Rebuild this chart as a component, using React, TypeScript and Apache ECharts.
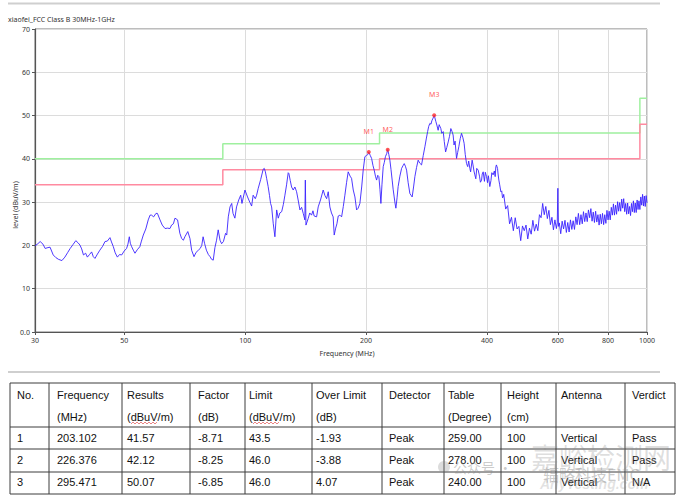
import React, { useEffect, useRef } from 'react';
import * as echarts from 'echarts';

const chartTitle = 'xiaofei_FCC Class B 30MHz-1GHz';
const yAxisTitle = 'level (dBuV/m)';
const xAxisTitle = 'Frequency (MHz)';
const xTickMHz = [30, 50, 100, 200, 400, 600, 800, 1000];
const limitEdgesMHz = [30, 88, 216, 960, 1000];
const limitClassB = [40, 43.5, 46, 54];
const limitWarning = [34, 37.5, 40, 48];
const markerNames = ['M1', 'M2', 'M3'];
const markerFreq = [203.102, 226.376, 295.471];
const markerLevel = [41.57, 42.12, 50.07];

// measured trace: [MHz, dBuV/m]
const trace: [number, number][] = [
  [30.0, 19.9], [30.5, 20.4], [30.9, 20.9], [31.4, 20.3], [31.8, 19.3], [32.3, 19.5], [32.7, 19.6], [33.3, 17.8],
  [33.8, 17.2], [34.3, 16.8], [35.0, 16.5], [35.6, 17.3], [36.2, 18.4], [36.7, 19.3], [37.3, 20.2], [37.9, 21.1],
  [38.4, 20.6], [38.8, 20.1], [39.2, 19.2], [39.6, 17.8], [40.1, 18.2], [40.5, 17.3], [41.0, 17.9], [41.5, 18.5],
  [41.9, 17.4], [42.3, 17.0], [42.9, 18.0], [43.5, 18.9], [44.2, 19.8], [44.8, 20.9], [45.4, 21.0], [46.1, 21.8],
  [46.5, 20.8], [47.0, 19.7], [47.5, 18.3], [48.1, 17.3], [48.7, 17.9], [49.3, 17.8], [50.0, 18.7], [50.7, 19.3],
  [51.1, 20.3], [51.5, 22.0], [51.8, 20.5], [52.2, 19.7], [52.7, 18.9], [53.2, 18.2], [53.9, 19.0], [54.7, 19.7],
  [55.2, 21.0], [55.8, 22.4], [56.6, 23.8], [57.4, 25.9], [58.0, 27.0], [58.5, 27.0], [59.2, 26.6], [60.0, 27.4],
  [60.5, 27.4], [61.4, 25.9], [62.2, 24.7], [63.2, 23.9], [64.1, 24.0], [65.0, 23.9], [65.6, 24.7], [66.3, 25.0],
  [66.9, 26.3], [67.9, 25.9], [68.8, 22.8], [69.5, 21.6], [70.2, 21.2], [70.8, 22.0], [72.0, 23.2], [72.9, 21.6],
  [73.6, 18.9], [74.6, 17.4], [75.5, 18.4], [76.5, 18.9], [77.3, 19.3], [78.0, 20.0], [78.6, 22.0], [79.3, 20.4],
  [80.1, 18.9], [81.0, 17.9], [81.8, 17.4], [82.5, 16.8], [83.3, 16.6], [84.1, 19.5], [84.9, 21.2], [85.7, 23.6],
  [86.6, 21.2], [87.4, 20.4], [88.3, 20.9], [89.4, 22.8], [90.0, 22.4], [90.8, 26.6], [91.7, 28.9], [92.6, 29.7],
  [93.3, 27.4], [94.3, 26.3], [95.2, 28.9], [96.4, 30.5], [97.5, 31.6], [98.2, 29.7], [99.9, 32.8],
  [101.4, 31.2], [102.8, 29.9], [103.8, 29.1], [104.7, 31.6], [106.0, 30.8], [106.8, 31.6], [107.8, 33.2], [109.3, 35.2],
  [110.9, 37.6], [111.6, 37.8], [112.3, 37.0], [113.1, 35.5], [114.1, 33.6], [115.0, 31.5], [115.7, 29.7], [116.4, 28.9],
  [117.5, 25.0], [118.6, 22.0], [119.8, 28.2], [120.9, 26.3], [122.0, 27.5], [123.3, 27.8], [124.5, 29.5], [125.6, 31.6],
  [126.8, 34.0], [128.0, 36.8], [128.5, 36.6], [129.5, 35.0], [130.5, 33.5], [131.7, 32.8], [133.0, 33.5], [134.3, 32.4],
  [135.5, 30.5], [136.9, 28.2], [138.2, 28.8], [139.5, 27.4], [140.8, 25.9], [141.2, 35.1], [141.7, 24.7], [143.5, 26.2],
  [144.8, 27.5], [146.3, 27.0], [147.5, 28.0], [148.5, 26.8], [150.6, 26.6], [152.0, 28.9], [154.0, 30.5], [156.4, 32.8],
  [158.0, 31.5], [159.5, 30.8], [161.0, 32.4], [162.5, 28.9], [164.0, 27.5], [165.6, 26.6], [166.6, 22.4], [168.0, 24.0],
  [169.2, 25.0], [170.5, 26.8], [172.1, 27.0], [173.8, 26.6], [175.5, 29.0], [177.1, 31.6], [178.8, 34.5], [180.5, 37.0],
  [181.2, 37.0], [182.5, 36.0], [184.0, 35.5], [185.8, 32.8], [187.6, 31.2], [189.4, 28.2], [191.1, 28.6], [193.0, 29.7],
  [195.0, 33.5], [196.7, 37.4], [198.6, 40.5], [200.5, 40.8], [202.0, 41.0], [203.1, 41.57], [204.8, 40.8], [206.4, 40.1],
  [208.0, 38.5], [209.5, 37.4], [211.0, 36.0], [212.4, 35.1], [213.8, 36.2], [215.2, 35.9], [216.5, 33.0], [217.7, 29.7],
  [219.0, 34.0], [220.6, 38.2], [222.0, 39.2], [223.4, 40.5], [225.0, 41.2], [226.4, 42.12], [227.8, 41.0], [229.2, 39.7],
  [230.7, 37.5], [232.2, 35.1], [233.5, 33.0], [234.9, 31.2], [236.0, 29.8], [237.2, 28.6], [238.8, 31.0], [240.3, 33.6],
  [242.7, 36.0], [245.1, 37.8], [247.0, 38.4], [248.8, 38.9], [250.5, 38.3], [252.2, 37.4], [254.5, 34.5], [257.0, 32.0],
  [258.7, 31.6], [260.4, 31.2], [262.5, 33.5], [264.5, 35.9], [267.0, 38.0], [269.5, 39.7], [272.0, 39.0], [274.8, 38.6],
  [277.5, 40.8], [280.1, 42.8], [282.3, 44.6], [284.5, 46.3], [286.3, 47.5], [288.2, 48.2], [290.0, 48.0], [291.5, 48.8],
  [293.5, 49.4], [295.5, 50.07],
  [298.3, 48.6], [300.0, 47.8], [302.2, 46.6], [304.0, 47.9], [306.9, 47.0], [308.5, 45.9], [311.1, 46.3], [313.0, 44.0],
  [315.4, 41.6], [317.5, 42.6], [320.1, 43.9], [322.5, 45.2], [325.0, 47.0], [327.0, 46.4], [329.3, 45.5], [331.0, 43.2],
  [333.0, 44.1], [335.8, 40.1], [338.0, 41.5], [340.2, 42.8], [343.0, 44.7], [345.5, 45.9], [348.0, 45.0], [350.7, 43.6],
  [353.0, 41.0], [355.6, 38.9], [358.0, 38.2], [360.0, 39.5], [362.4, 37.8], [364.0, 37.0], [367.2, 39.7], [369.0, 38.6],
  [371.0, 37.2], [372.9, 36.3], [375.0, 35.4], [377.0, 37.8], [380.1, 37.4], [383.0, 36.0], [385.0, 34.6], [387.6, 35.1],
  [389.0, 36.5], [391.2, 37.0], [394.0, 34.8], [396.0, 36.9], [398.8, 35.9], [401.0, 34.5], [403.0, 36.1], [406.3, 33.6],
  [409.0, 35.0], [411.0, 36.8], [414.1, 36.3], [417.0, 37.2], [419.0, 35.9], [420.6, 38.2], [422.0, 38.6], [424.7, 37.8],
  [426.0, 36.5], [427.9, 35.1], [430.0, 34.0], [432.9, 32.4], [435.0, 32.6], [437.0, 31.0], [438.6, 31.2],
  [440, 31.8], [445, 28.4], [450, 29.2], [455, 25.0], [460, 26.5], [465, 23.4], [470, 26.4], [475, 23.8],
  [480, 24.4], [485, 21.1], [490, 24.5], [495, 23.4], [500, 24.7], [505, 21.5], [510, 24.0], [515, 22.6],
  [520, 25.8], [525, 23.3], [530, 24.9], [535, 23.4], [540, 27.1], [545, 26.4], [550, 29.7], [555, 27.1],
  [560, 29.0], [565, 26.2], [570, 28.1], [575, 24.8], [580, 26.5], [585, 23.6], [590, 25.9], [595, 23.9],
  [598, 25.2], [600, 33.2], [602, 24.4], [605, 25.2], [610, 22.7], [615, 25.6], [620, 23.8], [625, 25.8],
  [630, 23.0], [635, 25.3], [640, 23.1], [645, 25.9], [650, 23.7], [655, 25.7], [660, 23.7], [665, 26.6],
  [670, 24.8], [675, 27.4], [680, 24.8], [685, 27.1], [690, 25.0], [695, 27.8], [700, 25.5], [705, 27.5],
  [710, 25.5], [715, 28.2], [720, 26.4], [725, 28.5], [730, 25.6], [735, 27.7], [740, 25.3], [745, 27.9],
  [750, 25.4], [755, 27.1], [760, 24.7], [765, 27.2], [770, 25.0], [775, 27.4], [780, 24.8], [785, 27.1],
  [790, 25.1], [795, 28.1], [800, 25.9], [805, 27.9], [810, 25.9], [815, 28.8], [820, 27.0], [825, 29.6],
  [830, 27.0], [835, 29.3], [840, 27.2], [845, 30.1], [850, 27.9], [855, 29.9], [860, 27.9], [865, 30.7],
  [870, 28.6], [875, 30.8], [880, 27.8], [885, 29.7], [890, 27.2], [895, 29.8], [900, 27.3], [905, 29.0],
  [910, 26.9], [915, 29.7], [920, 27.8], [925, 30.3], [930, 27.6], [935, 29.8], [940, 27.6], [945, 30.5],
  [950, 28.3], [955, 30.3], [960, 28.3], [965, 31.2], [970, 29.3], [975, 31.8], [980, 29.1], [985, 31.4],
  [990, 29.0], [995, 31.5], [1000, 29.8],
];

const tableHeadTop = ['No.', 'Frequency', 'Results', 'Factor', 'Limit', 'Over Limit', 'Detector', 'Table', 'Height', 'Antenna', 'Verdict'];
const tableHeadBottom = ['', '(MHz)', '(dBuV/m)', '(dB)', '(dBuV/m)', '(dB)', '', '(Degree)', '(cm)', '', ''];
const tableRows = [
  ['1', '203.102', '41.57', '-8.71', '43.5', '-1.93', 'Peak', '259.00', '100', 'Vertical', 'Pass'],
  ['2', '226.376', '42.12', '-8.25', '46.0', '-3.88', 'Peak', '278.00', '100', 'Vertical', 'Pass'],
  ['3', '295.471', '50.07', '-6.85', '46.0', '4.07', 'Peak', '240.00', '100', 'Vertical', 'N/A'],
];

const lg = (v: number) => Math.log10(v);

function stepData(edges: number[], levels: number[]) {
  const out: number[][] = [];
  for (let i = 0; i < levels.length; i++) {
    out.push([lg(edges[i]), levels[i]]);
    out.push([lg(edges[i + 1]), levels[i]]);
  }
  return out;
}

function buildTable() {
  const els: any[] = [];
  const colX = [10, 49, 122, 190, 245, 312, 382, 444, 501, 556, 625, 675];
  const rowY = [383, 427, 449, 472, 494];
  const textX = [17, 57, 127, 198, 249, 316, 389, 448, 507, 561, 632];
  const lineStyle = { stroke: '#3c3c3c', lineWidth: 1 };
  rowY.forEach((y) => els.push({ type: 'line', shape: { x1: colX[0], y1: y, x2: colX[colX.length - 1], y2: y }, style: lineStyle }));
  colX.forEach((x) => els.push({ type: 'line', shape: { x1: x, y1: rowY[0], x2: x, y2: rowY[rowY.length - 1] }, style: lineStyle }));
  const font = { fontFamily: '"Liberation Sans", Arial, sans-serif', fontSize: 11, fill: '#111' };
  tableHeadTop.forEach((t, i) => els.push({ type: 'text', x: textX[i], y: 394.5, style: { ...font, text: t, verticalAlign: 'middle' } }));
  tableHeadBottom.forEach((t, i) => t && els.push({ type: 'text', x: textX[i], y: 416.5, style: { ...font, text: t, verticalAlign: 'middle' } }));
  const rowsY = [437.7, 460, 482.3];
  tableRows.forEach((row, r) => row.forEach((t, i) => els.push({ type: 'text', x: textX[i], y: rowsY[r], style: { ...font, text: t, verticalAlign: 'middle' } })));
  // spell-check squiggles under "dBuV"
  [131, 253].forEach((x0) => {
    const pts: number[][] = [];
    for (let k = 0; k <= 13; k++) pts.push([x0 + k * 2, k % 2 ? 422 : 424]);
    els.push({ type: 'polyline', shape: { points: pts }, style: { stroke: '#e05050', lineWidth: 0.7, fill: null } });
  });
  return els;
}

export default function App() {
  const ref = useRef<HTMLDivElement>(null);
  useEffect(() => {
    if (!ref.current) return;
    const chart = echarts.init(ref.current, undefined, { renderer: 'svg' });
    const axisFont = { fontFamily: '"Noto Sans", "DejaVu Sans", sans-serif', fontSize: 7, color: '#333' };
    const option: any = {
      animation: false,
      backgroundColor: '#fff',
      grid: {
        left: 35, right: 33, top: 29, bottom: 167,
        show: true, borderColor: '#7a7a7a', borderWidth: 1,
        containLabel: false, outerBoundsMode: 'none',
      },
      xAxis: {
        type: 'value',
        min: lg(30), max: lg(1000),
        axisLine: { show: true, lineStyle: { color: '#555', width: 1 } },
        axisTick: { show: true, length: 3, lineStyle: { color: '#555' }, customValues: xTickMHz.map(lg) },
        axisLabel: { ...axisFont, margin: 5, customValues: xTickMHz.map(lg), formatter: (v: number) => String(Math.round(Math.pow(10, v))) },
        splitLine: { show: true, lineStyle: { color: '#dcdcdc', width: 1 } },
      },
      yAxis: {
        type: 'value', min: 0, max: 70, interval: 10,
        axisLine: { show: true, lineStyle: { color: '#555', width: 1.2 } },
        axisTick: { show: true, length: 3, lineStyle: { color: '#555' } },
        axisLabel: { ...axisFont, margin: 5, formatter: (v: number) => (v === 0 ? '0.0' : String(v)) },
        splitLine: { show: true, lineStyle: { color: '#dcdcdc', width: 1 } },
      },
      series: [
        {
          type: 'line', name: 'Class B', data: stepData(limitEdgesMHz, limitClassB), symbol: 'none',
          lineStyle: { color: '#9ff09f', width: 1.5 }, silent: true, z: 2,
        },
        {
          type: 'line', name: 'Warning', data: stepData(limitEdgesMHz, limitWarning), symbol: 'none',
          lineStyle: { color: '#ff8aa0', width: 1.5 }, silent: true, z: 2,
        },
        {
          type: 'line', name: 'Trace', data: trace.map(([f, v]) => [lg(f), v]), symbol: 'none',
          lineStyle: { color: '#3a22ff', width: 0.9 }, silent: true, z: 3,
        },
        {
          type: 'scatter', name: 'Markers',
          data: markerFreq.map((f, i) => ({ value: [lg(f), markerLevel[i]], name: markerNames[i] })),
          symbol: 'circle', symbolSize: 4, itemStyle: { color: '#ff2a2a' }, z: 4,
          label: { show: true, position: 'top', distance: 15, formatter: (p: any) => p.name, color: '#ff3030', fontSize: 7, fontFamily: '"Noto Sans", sans-serif' },
        },
      ],
      graphic: [
        { type: 'line', shape: { x1: 8, y1: 3.5, x2: 660, y2: 3.5 }, style: { stroke: '#cfcfcf', lineWidth: 2 } },
        { type: 'line', shape: { x1: 8, y1: 372, x2: 660, y2: 372 }, style: { stroke: '#cfcfcf', lineWidth: 2 } },
        { type: 'text', x: 8, y: 19, style: { text: chartTitle, fontFamily: '"Noto Sans", sans-serif', fontSize: 7, fill: '#333', verticalAlign: 'middle' } },
        { type: 'text', x: 15, y: 205, rotation: Math.PI / 2, style: { text: yAxisTitle, fontFamily: '"Noto Sans", sans-serif', fontSize: 7, fill: '#333', align: 'center', verticalAlign: 'middle' } },
        { type: 'text', x: 347, y: 353, style: { text: xAxisTitle, fontFamily: '"Noto Sans", sans-serif', fontSize: 7, fill: '#333', align: 'center', verticalAlign: 'middle' } },
        ...buildTable(),
        { type: 'text', x: 531, y: 457, z: 100, style: { text: '嘉峪检测网', fontFamily: '"Noto Sans CJK SC", sans-serif', fontSize: 28, fill: 'rgba(140,140,140,0.28)', verticalAlign: 'middle' } },
        { type: 'circle', shape: { cx: 444, cy: 467, r: 6 }, z: 100, style: { fill: 'rgba(140,140,140,0.3)' } },
        { type: 'text', x: 453, y: 467, z: 100, style: { text: '公众号 ·', fontFamily: '"Noto Sans CJK SC", sans-serif', fontSize: 14, fill: 'rgba(140,140,140,0.45)', verticalAlign: 'middle' } },
        { type: 'text', x: 543, y: 474, z: 100, style: { text: '辐略科技EMC', fontFamily: '"Noto Sans CJK SC", sans-serif', fontSize: 16, fill: 'rgba(140,140,140,0.45)', verticalAlign: 'middle' } },
        { type: 'text', x: 540, y: 484, z: 100, style: { text: 'AnyTesting.com', fontFamily: '"Liberation Sans", sans-serif', fontStyle: 'italic', fontWeight: 'bold', fontSize: 14, fill: 'rgba(140,140,140,0.25)', verticalAlign: 'middle' } },
      ],
    };
    chart.setOption(option);
    return () => chart.dispose();
  }, []);
  return <div ref={ref} style={{ position: 'fixed', left: 0, top: 0, width: 680, height: 499, background: '#fff' }} />;
}
